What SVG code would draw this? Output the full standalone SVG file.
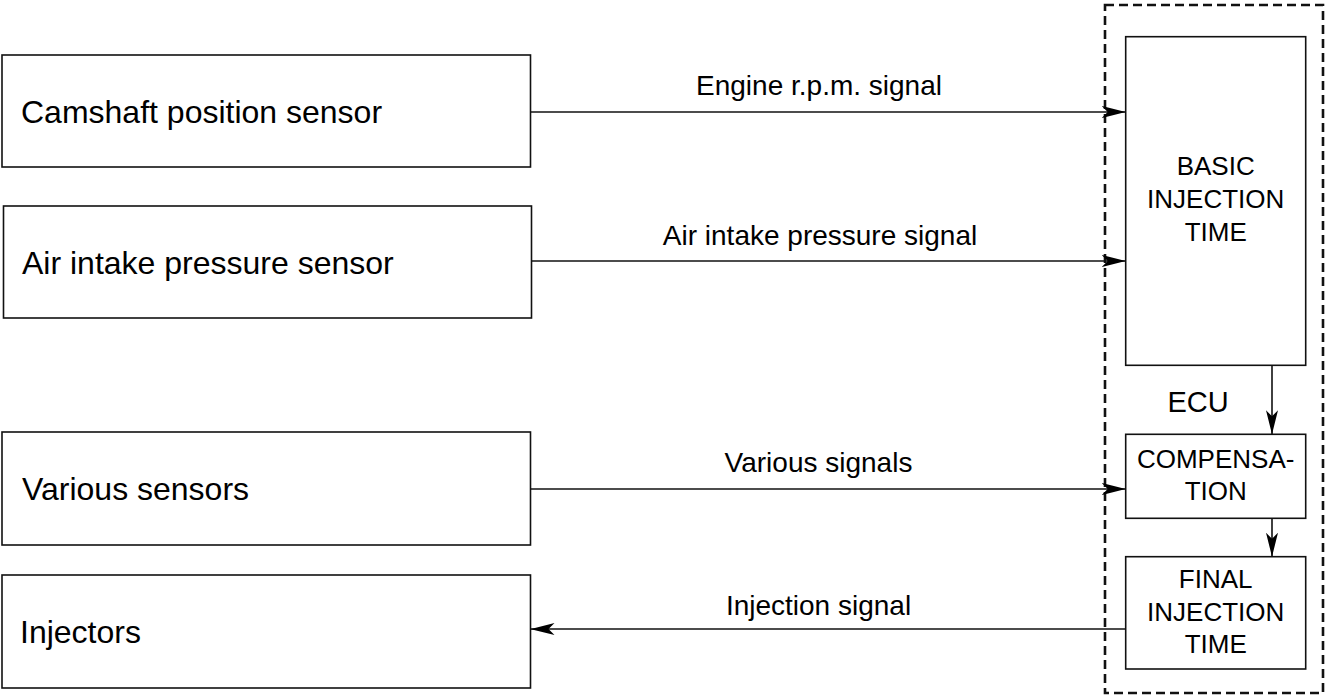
<svg xmlns="http://www.w3.org/2000/svg" width="1327" height="697" viewBox="0 0 1327 697">
<style>
.box{fill:#fff;stroke:#111;stroke-width:1.6}
.lbl{font-family:"Liberation Sans",Arial,sans-serif;font-size:32px;fill:#000}
.sig{font-family:"Liberation Sans",Arial,sans-serif;font-size:28px;fill:#000;text-anchor:middle}
.ecu{font-family:"Liberation Sans",Arial,sans-serif;font-size:26px;fill:#000;text-anchor:middle}
.con{fill:none;stroke:#111;stroke-width:1.6}
</style>
<defs>
<marker id="ah" markerUnits="userSpaceOnUse" viewBox="0 0 24 12" refX="24" refY="6" markerWidth="24" markerHeight="12" orient="auto">
<path d="M0,0 L24,6 L0,12 L6,6 Z" fill="#000"/>
</marker>
</defs>
<rect width="1327" height="697" fill="#fff"/>
<g id="ecu">
<rect x="1105" y="5" width="218" height="688" fill="none" stroke="#111" stroke-width="2.6" stroke-dasharray="9,5"/>
<text class="ecu" x="1198" y="412" style="font-size:29px">ECU</text>
</g>
<g id="camshaft">
<rect class="box" x="2" y="55" width="528.5" height="112"/>
<text class="lbl" x="21" y="122.5">Camshaft position sensor</text>
</g>
<g id="airintake">
<rect class="box" x="3.5" y="206" width="528" height="112"/>
<text class="lbl" x="22" y="273.5">Air intake pressure sensor</text>
</g>
<g id="various">
<rect class="box" x="2" y="432" width="528.5" height="113"/>
<text class="lbl" x="22" y="500">Various sensors</text>
</g>
<g id="injectors">
<rect class="box" x="2" y="575" width="528.5" height="113"/>
<text class="lbl" x="20" y="643">Injectors</text>
</g>
<g id="basic">
<rect class="box" x="1125.7" y="36.7" width="180" height="328.6"/>
<text class="ecu" x="1215.7" y="175">BASIC</text>
<text class="ecu" x="1215.7" y="208">INJECTION</text>
<text class="ecu" x="1215.7" y="241">TIME</text>
</g>
<g id="compensation">
<rect class="box" x="1125.7" y="434.3" width="180" height="84"/>
<text class="ecu" x="1215.7" y="468">COMPENSA-</text>
<text class="ecu" x="1215.7" y="500">TION</text>
</g>
<g id="final">
<rect class="box" x="1125.7" y="556.7" width="180" height="112.3"/>
<text class="ecu" x="1215.7" y="588">FINAL</text>
<text class="ecu" x="1215.7" y="621">INJECTION</text>
<text class="ecu" x="1215.7" y="653">TIME</text>
</g>
<g id="connectors">
<line class="con" x1="530.5" y1="112" x2="1125.7" y2="112" marker-end="url(#ah)"/>
<text class="sig" x="819" y="95">Engine r.p.m. signal</text>
<line class="con" x1="531.5" y1="261" x2="1125.7" y2="261" marker-end="url(#ah)"/>
<text class="sig" x="820" y="245">Air intake pressure signal</text>
<line class="con" x1="530.5" y1="489" x2="1125.7" y2="489" marker-end="url(#ah)"/>
<text class="sig" x="818.5" y="472">Various signals</text>
<line class="con" x1="1125.7" y1="629" x2="530.5" y2="629" marker-end="url(#ah)"/>
<text class="sig" x="818.5" y="615">Injection signal</text>
<line class="con" x1="1272" y1="365.3" x2="1272" y2="434.3" marker-end="url(#ah)"/>
<line class="con" x1="1272" y1="518.3" x2="1272" y2="556.7" marker-end="url(#ah)"/>
</g>
</svg>
